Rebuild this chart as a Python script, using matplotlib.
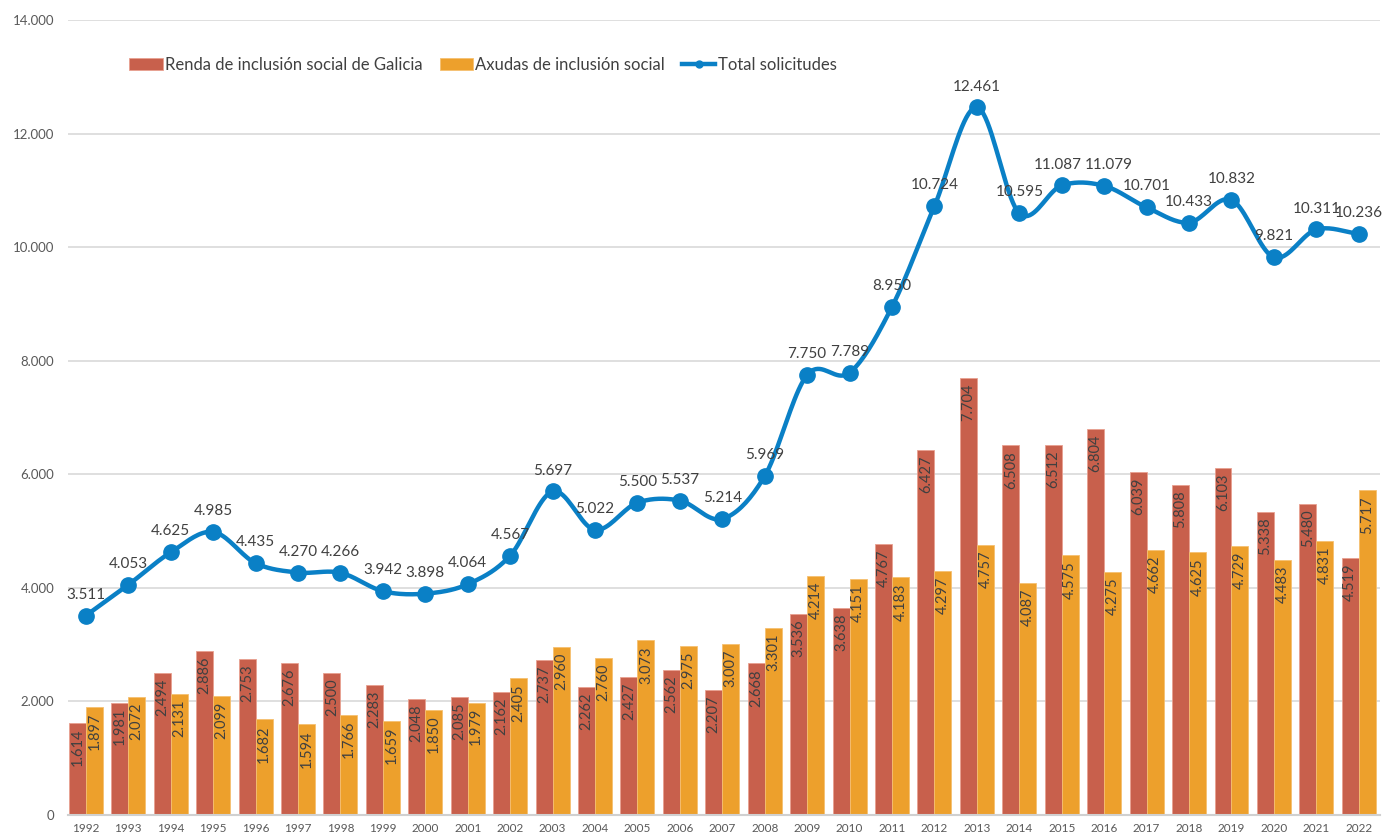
import numpy as np
import matplotlib
matplotlib.use("Agg")
import matplotlib.pyplot as plt
from matplotlib.ticker import FuncFormatter

plt.rcParams['font.family'] = ['Lato', 'DejaVu Sans']

# Data
years = [str(y) for y in range(1992, 2023)]
renda = [1614, 1981, 2494, 2886, 2753, 2676, 2500, 2283, 2048, 2085,
         2162, 2737, 2262, 2427, 2562, 2207, 2668, 3536, 3638, 4767,
         6427, 7704, 6508, 6512, 6804, 6039, 5808, 6103, 5338, 5480, 4519]
axudas = [1897, 2072, 2131, 2099, 1682, 1594, 1766, 1659, 1850, 1979,
          2405, 2960, 2760, 3073, 2975, 3007, 3301, 4214, 4151, 4183,
          4297, 4757, 4087, 4575, 4275, 4662, 4625, 4729, 4483, 4831, 5717]
total = [3511, 4053, 4625, 4985, 4435, 4270, 4266, 3942, 3898, 4064,
         4567, 5697, 5022, 5500, 5537, 5214, 5969, 7750, 7789, 8950,
         10724, 12461, 10595, 11087, 11079, 10701, 10433, 10832, 9821, 10311, 10236]

RED = '#c8604c'
ORANGE = '#eda02c'
BLUE = '#0a80c6'
TXT = '#404040'


def fmt(v):
    return f"{int(v):,}".replace(",", ".")


def smooth(xs, ys, n=20):
    # Catmull-Rom style curve through the points (like Excel's smoothed line)
    xs = np.asarray(xs, float)
    ys = np.asarray(ys, float)
    px = np.concatenate([[2 * xs[0] - xs[1]], xs, [2 * xs[-1] - xs[-2]]])
    py = np.concatenate([[2 * ys[0] - ys[1]], ys, [2 * ys[-1] - ys[-2]]])
    ox, oy = [], []
    t = np.linspace(0, 1, n, endpoint=False)
    for i in range(1, len(px) - 2):
        p0, p1, p2, p3 = (np.array([px[j], py[j]]) for j in range(i - 1, i + 3))
        b1 = p1 + (p2 - p0) / 6
        b2 = p2 - (p3 - p1) / 6
        pts = ((1 - t) ** 3)[:, None] * p1 + (3 * (1 - t) ** 2 * t)[:, None] * b1 \
            + (3 * (1 - t) * t ** 2)[:, None] * b2 + (t ** 3)[:, None] * p2
        ox.extend(pts[:, 0])
        oy.extend(pts[:, 1])
    ox.append(xs[-1])
    oy.append(ys[-1])
    return np.array(ox), np.array(oy)


fig = plt.figure(figsize=(13.82, 8.35), dpi=100)
ax = fig.add_axes([68 / 1382, 20 / 835, 1312 / 1382, 795 / 835])

x = np.arange(len(years))
w = 0.4
b1 = ax.bar(x - w / 2, renda, w, color=RED, edgecolor='#e8a090', linewidth=0.6,
            label='Renda de inclusión social de Galicia', zorder=2)
b2 = ax.bar(x + w / 2, axudas, w, color=ORANGE, edgecolor='#f5c070', linewidth=0.6,
            label='Axudas de inclusión social', zorder=2)

for bars, vals in ((b1, renda), (b2, axudas)):
    for rect, v in zip(bars, vals):
        ax.annotate(fmt(v), (rect.get_x() + rect.get_width() / 2, v),
                    xytext=(0, -4), textcoords='offset points',
                    rotation=90, ha='center', va='top', fontsize=10.5,
                    color=TXT, zorder=4)

sx, sy = smooth(x, total)
ax.plot(sx, sy, color=BLUE, linewidth=3.2, zorder=3, solid_capstyle='round')
ax.plot(x, total, 'o', color=BLUE, markersize=11, zorder=3)
line_handle, = ax.plot([], [], '-o', color=BLUE, linewidth=3.2, markersize=5,
                       label='Total solicitudes')

# small nudges so the two close labels (2015, 2016) don't collide
nudge = {'2015': -3, '2016': 3}
for xi, yr, v in zip(x, years, total):
    ax.annotate(fmt(v), (xi, v), xytext=(nudge.get(yr, 0), 10),
                textcoords='offset points', ha='center', va='bottom',
                fontsize=11, color=TXT, zorder=4)

ax.set_xlim(-0.42, 30.5)
ax.set_ylim(0, 14000)
ax.set_yticks(range(0, 14001, 2000))
ax.yaxis.set_major_formatter(FuncFormatter(lambda v, p: fmt(v)))
ax.set_xticks(x)
ax.set_xticklabels(years)
ax.tick_params(axis='x', length=0, labelsize=8.5, colors='#595959', pad=6)
ax.tick_params(axis='y', length=0, labelsize=9.5, colors='#595959', pad=10)
ax.grid(axis='y', color='#d9d9d9', linewidth=1.2, zorder=0)
ax.set_axisbelow(True)
for s in ('left', 'right', 'top'):
    ax.spines[s].set_visible(False)
ax.spines['bottom'].set_color('#d0d0d0')
ax.spines['bottom'].set_linewidth(1.5)

fig.legend(handles=[b1, b2, line_handle], loc='center',
           bbox_to_anchor=(483 / 1382, 1 - 65 / 835), ncol=3,
           frameon=False, fontsize=12, handlelength=2.0, handleheight=0.7,
           columnspacing=1.0, handletextpad=0.15, labelcolor=TXT)

fig.savefig('out.png', dpi=100)
